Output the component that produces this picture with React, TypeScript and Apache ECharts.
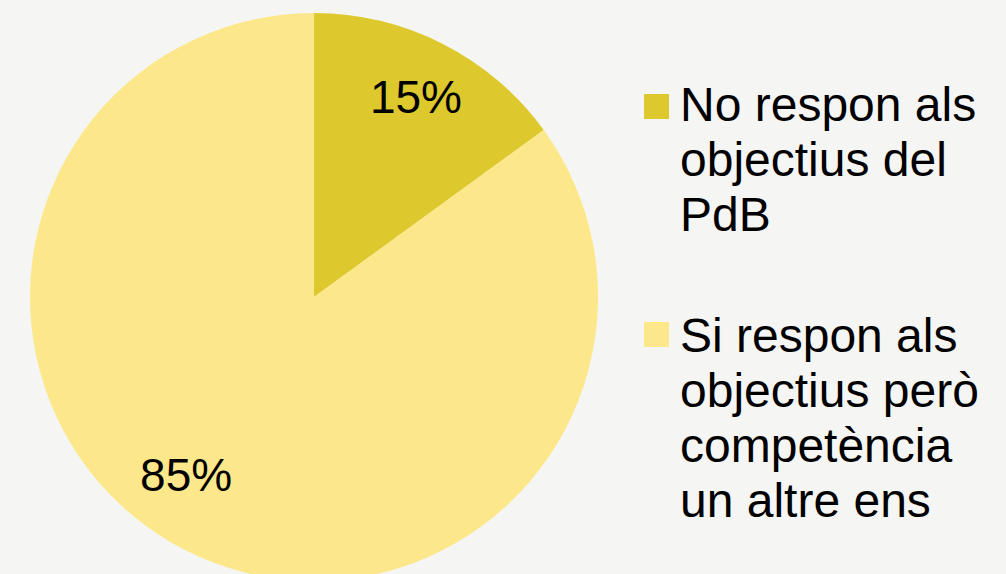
import React, { useEffect, useRef } from "react";
import * as echarts from "echarts";

const categories = ["No respon als objectius del PdB", "Si respon als objectius però competència un altre ens"];
const legendLines = [
  ["No respon als", "objectius del", "PdB"],
  ["Si respon als", "objectius però", "competència", "un altre ens"],
];
const values = [15, 85];
const colors = ["#DDC92E", "#FCE88A"];

export default function App() {
  const ref = useRef<HTMLDivElement>(null);
  useEffect(() => {
    document.body.style.margin = "0";
    const chart = echarts.init(ref.current!, null, { renderer: "svg" });
    const font = "'Liberation Sans', Arial, sans-serif";
    const data = categories.map((name, i) => ({ name, value: values[i], itemStyle: { color: colors[i] } }));
    const legendTops = [77, 308];
    const markerTops = [94, 322];
    const graphic: any[] = [];
    categories.forEach((_, i) => {
      graphic.push({
        type: "rect",
        left: 644,
        top: markerTops[i],
        shape: { width: 25, height: 25 },
        style: { fill: colors[i] },
      });
      graphic.push({
        type: "text",
        left: 680,
        top: legendTops[i],
        style: {
          text: legendLines[i].join("\n"),
          font: `48px ${font}`,
          fontSize: 48,
          fontFamily: font,
          lineHeight: 55,
          fill: "#000",
        },
      });
    });
    chart.setOption({
      animation: false,
      backgroundColor: "#F5F5F3",
      graphic,
      series: [
        {
          type: "pie",
          center: [314, 297],
          radius: 284,
          startAngle: 90,
          clockwise: true,
          silent: true,
          label: { show: false },
          labelLine: { show: false },
          data,
        },
        {
          type: "pie",
          center: [314, 297],
          radius: [159, 284],
          startAngle: 90,
          clockwise: true,
          silent: true,
          itemStyle: { color: "rgba(0,0,0,0)" },
          label: {
            show: true,
            position: "inside",
            formatter: (p: any) => `${p.value}%`,
            fontSize: 46,
            fontFamily: font,
            color: "#000",
          },
          labelLine: { show: false },
          labelLayout: (p: any) => (p.dataIndex === 1 ? { dx: -26, dy: -22 } : {}),
          data: categories.map((name, i) => ({ name, value: values[i], itemStyle: { color: "rgba(0,0,0,0)" } })),
        },
      ],
    });
    return () => chart.dispose();
  }, []);
  return <div ref={ref} style={{ width: 1006, height: 574 }} />;
}
